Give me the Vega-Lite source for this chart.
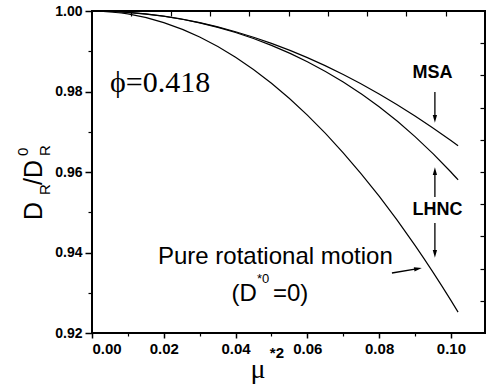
{
  "$schema": "https://vega.github.io/schema/vega-lite/v6.json",
  "width": 393,
  "height": 322,
  "autosize": "none",
  "padding": {"left": 92, "top": 11, "right": 2, "bottom": 57},
  "background": "white",
  "config": {
    "view": {"stroke": "black", "strokeWidth": 2},
    "axis": {"grid": false, "domain": false, "title": null, "tickColor": "black", "labelColor": "black"}
  },
  "resolve": {"axis": {"x": "independent", "y": "independent"}},
  "layer": [
    {
      "data": {"values": [
        {"x": 0, "y": 1.0, "m": "MSA"}, {"x": 0.01, "y": 0.99968, "m": "MSA"}, {"x": 0.02, "y": 0.99871, "m": "MSA"}, {"x": 0.03, "y": 0.9971, "m": "MSA"}, {"x": 0.04, "y": 0.99485, "m": "MSA"}, {"x": 0.05, "y": 0.99195, "m": "MSA"}, {"x": 0.06, "y": 0.98841, "m": "MSA"}, {"x": 0.07, "y": 0.98422, "m": "MSA"}, {"x": 0.08, "y": 0.97939, "m": "MSA"}, {"x": 0.09, "y": 0.97392, "m": "MSA"}, {"x": 0.1, "y": 0.9678, "m": "MSA"}, {"x": 0.102, "y": 0.9665, "m": "MSA"},
        {"x": 0, "y": 1.0, "m": "LHNC"}, {"x": 0.01, "y": 0.99968, "m": "LHNC"}, {"x": 0.02, "y": 0.9987, "m": "LHNC"}, {"x": 0.03, "y": 0.99704, "m": "LHNC"}, {"x": 0.04, "y": 0.99465, "m": "LHNC"}, {"x": 0.05, "y": 0.99146, "m": "LHNC"}, {"x": 0.06, "y": 0.9874, "m": "LHNC"}, {"x": 0.07, "y": 0.98235, "m": "LHNC"}, {"x": 0.08, "y": 0.97619, "m": "LHNC"}, {"x": 0.09, "y": 0.9688, "m": "LHNC"}, {"x": 0.1, "y": 0.96, "m": "LHNC"}, {"x": 0.102, "y": 0.95806, "m": "LHNC"},
        {"x": 0, "y": 1.0, "m": "Pure"}, {"x": 0.01, "y": 0.99928, "m": "Pure"}, {"x": 0.02, "y": 0.99712, "m": "Pure"}, {"x": 0.03, "y": 0.99353, "m": "Pure"}, {"x": 0.04, "y": 0.9885, "m": "Pure"}, {"x": 0.05, "y": 0.98203, "m": "Pure"}, {"x": 0.06, "y": 0.97412, "m": "Pure"}, {"x": 0.07, "y": 0.96477, "m": "Pure"}, {"x": 0.08, "y": 0.95398, "m": "Pure"}, {"x": 0.09, "y": 0.94176, "m": "Pure"}, {"x": 0.1, "y": 0.9281, "m": "Pure"}, {"x": 0.102, "y": 0.9252, "m": "Pure"}
      ]},
      "mark": {"type": "line", "color": "black", "strokeWidth": 1.2, "interpolate": "monotone"},
      "encoding": {
        "x": {"field": "x", "type": "quantitative", "scale": {"domain": [0, 0.1095], "nice": false, "zero": false},
          "axis": {"orient": "bottom", "values": [0, 0.02, 0.04, 0.06, 0.08, 0.1], "format": ".2f", "labelFont": "Liberation Sans", "labelFontWeight": "bold", "labelFontSize": 15, "tickSize": 5, "tickWidth": 1.5, "labelPadding": 3}},
        "y": {"field": "y", "type": "quantitative", "scale": {"domain": [0.92, 1.0], "nice": false, "zero": false},
          "axis": {"orient": "left", "values": [0.92, 0.94, 0.96, 0.98, 1.0], "format": ".2f", "labelFont": "Liberation Sans", "labelFontWeight": "bold", "labelFontSize": 14, "tickSize": 7, "tickWidth": 1.5, "labelPadding": 3}},
        "detail": {"field": "m", "type": "nominal"}
      }
    },
    {
      "data": {"values": [
        {"x": 0.09554, "y": 0.97988, "y2": 0.97317},
        {"x": 0.09554, "y": 0.95379, "y2": 0.96024},
        {"x": 0.09554, "y": 0.94733, "y2": 0.93963}
      ]},
      "mark": {"type": "rule", "color": "black", "strokeWidth": 1.3},
      "encoding": {
        "x": {"field": "x", "type": "quantitative", "scale": {"domain": [0, 0.1095], "nice": false, "zero": false},
          "axis": {"orient": "bottom", "values": [0.01, 0.03, 0.05, 0.07, 0.09], "labels": false, "tickSize": 3, "tickWidth": 1.2}},
        "y": {"field": "y", "type": "quantitative", "scale": {"domain": [0.92, 1.0], "nice": false, "zero": false},
          "axis": {"orient": "left", "values": [0.93, 0.95, 0.97, 0.99], "labels": false, "tickSize": 4, "tickWidth": 1.2}},
        "y2": {"field": "y2"}
      }
    },
    {
      "data": {"values": [
        {"x": 0.08357, "x2": 0.09083, "y": 0.93491, "y2": 0.93599}
      ]},
      "mark": {"type": "rule", "color": "black", "strokeWidth": 1.3},
      "encoding": {
        "x": {"field": "x", "type": "quantitative", "scale": {"domain": [0, 0.1095], "nice": false, "zero": false},
          "axis": {"orient": "top", "values": [0.01095, 0.0219, 0.03285, 0.0438, 0.05475, 0.0657, 0.07665, 0.0876, 0.09855], "labels": false, "tickSize": -5, "tickWidth": 1.2}},
        "x2": {"field": "x2"},
        "y": {"field": "y", "type": "quantitative", "scale": {"domain": [0.92, 1.0], "nice": false, "zero": false},
          "axis": {"orient": "right", "values": [0.928, 0.936, 0.944, 0.952, 0.96, 0.968, 0.976, 0.984, 0.992], "labels": false, "tickSize": -5, "tickWidth": 1.2}},
        "y2": {"field": "y2"}
      }
    },
    {
      "data": {"values": [
        {"x": 0.09554, "y": 0.97317, "dir": "down"},
        {"x": 0.09554, "y": 0.93963, "dir": "down"}
      ]},
      "mark": {"type": "point", "filled": true, "color": "black", "opacity": 1, "size": 60, "shape": "M -0.55 -1 L 0.55 -1 L 0 1 Z"},
      "encoding": {
        "x": {"field": "x", "type": "quantitative", "scale": {"domain": [0, 0.1095], "nice": false, "zero": false}, "axis": null},
        "y": {"field": "y", "type": "quantitative", "scale": {"domain": [0.92, 1.0], "nice": false, "zero": false}, "axis": null}
      }
    },
    {
      "data": {"values": [
        {"x": 0.09554, "y": 0.96024, "dir": "up"}
      ]},
      "mark": {"type": "point", "filled": true, "color": "black", "opacity": 1, "size": 60, "shape": "M -0.55 1 L 0.55 1 L 0 -1 Z"},
      "encoding": {
        "x": {"field": "x", "type": "quantitative", "scale": {"domain": [0, 0.1095], "nice": false, "zero": false}, "axis": null},
        "y": {"field": "y", "type": "quantitative", "scale": {"domain": [0.92, 1.0], "nice": false, "zero": false}, "axis": null}
      }
    },
    {
      "data": {"values": [
        {"x": 0.09083, "y": 0.93599, "dir": "right"}
      ]},
      "mark": {"type": "point", "filled": true, "color": "black", "opacity": 1, "size": 60, "angle": -10, "shape": "M -1 -0.55 L 1 0 L -1 0.55 Z"},
      "encoding": {
        "x": {"field": "x", "type": "quantitative", "scale": {"domain": [0, 0.1095], "nice": false, "zero": false}, "axis": null},
        "y": {"field": "y", "type": "quantitative", "scale": {"domain": [0.92, 1.0], "nice": false, "zero": false}, "axis": null}
      }
    },
    {
      "data": {"values": [{"x": 0.00501, "y": 0.97988, "t": "ϕ=0.418"}]},
      "mark": {"type": "text", "font": "Liberation Serif", "fontSize": 30, "align": "left", "baseline": "alphabetic", "color": "black"},
      "encoding": {
        "x": {"field": "x", "type": "quantitative", "scale": {"domain": [0, 0.1095], "nice": false, "zero": false}, "axis": null},
        "y": {"field": "y", "type": "quantitative", "scale": {"domain": [0.92, 1.0], "nice": false, "zero": false}, "axis": null},
        "text": {"field": "t"}
      }
    },
    {
      "data": {"values": [
        {"x": 0.09485, "y": 0.98335, "t": "MSA"},
        {"x": 0.09624, "y": 0.94932, "t": "LHNC"}
      ]},
      "mark": {"type": "text", "font": "Liberation Sans", "fontSize": 18, "fontWeight": "bold", "align": "center", "baseline": "alphabetic", "color": "black"},
      "encoding": {
        "x": {"field": "x", "type": "quantitative", "scale": {"domain": [0, 0.1095], "nice": false, "zero": false}, "axis": null},
        "y": {"field": "y", "type": "quantitative", "scale": {"domain": [0.92, 1.0], "nice": false, "zero": false}, "axis": null},
        "text": {"field": "t"}
      }
    },
    {
      "data": {"values": [
        {"x": 0.01838, "y": 0.93714, "t": "Pure rotational motion"}
      ]},
      "mark": {"type": "text", "font": "Liberation Sans", "fontSize": 24, "align": "left", "baseline": "alphabetic", "color": "black"},
      "encoding": {
        "x": {"field": "x", "type": "quantitative", "scale": {"domain": [0, 0.1095], "nice": false, "zero": false}, "axis": null},
        "y": {"field": "y", "type": "quantitative", "scale": {"domain": [0.92, 1.0], "nice": false, "zero": false}, "axis": null},
        "text": {"field": "t"}
      }
    },
    {
      "data": {"values": [
        {"x": 0.05042, "y": 0.92795, "t": "=0)"}
      ]},
      "mark": {"type": "text", "font": "Liberation Sans", "fontSize": 24, "align": "left", "baseline": "alphabetic", "color": "black"},
      "encoding": {
        "x": {"field": "x", "type": "quantitative", "scale": {"domain": [0, 0.1095], "nice": false, "zero": false}, "axis": null},
        "y": {"field": "y", "type": "quantitative", "scale": {"domain": [0.92, 1.0], "nice": false, "zero": false}, "axis": null},
        "text": {"field": "t"}
      }
    },
    {
      "data": {"values": [{"x": 0.04596, "y": 0.92795, "t": "(D"}]},
      "mark": {"type": "text", "font": "Liberation Sans", "fontSize": 24, "align": "right", "baseline": "alphabetic", "color": "black"},
      "encoding": {
        "x": {"field": "x", "type": "quantitative", "scale": {"domain": [0, 0.1095], "nice": false, "zero": false}, "axis": null},
        "y": {"field": "y", "type": "quantitative", "scale": {"domain": [0.92, 1.0], "nice": false, "zero": false}, "axis": null},
        "text": {"field": "t"}
      }
    },
    {
      "data": {"values": [{"x": 0.04596, "y": 0.93242, "t": "*0"}]},
      "mark": {"type": "text", "font": "Liberation Sans", "fontSize": 13, "align": "left", "baseline": "alphabetic", "color": "black"},
      "encoding": {
        "x": {"field": "x", "type": "quantitative", "scale": {"domain": [0, 0.1095], "nice": false, "zero": false}, "axis": null},
        "y": {"field": "y", "type": "quantitative", "scale": {"domain": [0.92, 1.0], "nice": false, "zero": false}, "axis": null},
        "text": {"field": "t"}
      }
    },
    {
      "data": {"values": [
        {"x": -0.01393, "y": 0.94807, "t": "D"},
        {"x": -0.01393, "y": 0.95677, "t": "/D"}
      ]},
      "mark": {"type": "text", "font": "Liberation Sans", "fontSize": 25, "angle": 270, "align": "left", "baseline": "alphabetic", "color": "black"},
      "encoding": {
        "x": {"field": "x", "type": "quantitative", "scale": {"domain": [0, 0.1095], "nice": false, "zero": false}, "axis": null},
        "y": {"field": "y", "type": "quantitative", "scale": {"domain": [0.92, 1.0], "nice": false, "zero": false}, "axis": null},
        "text": {"field": "t"}
      }
    },
    {
      "data": {"values": [
        {"x": -0.0117, "y": 0.95429, "t": "R"},
        {"x": -0.0117, "y": 0.96398, "t": "R"},
        {"x": -0.01783, "y": 0.96398, "t": "0"}
      ]},
      "mark": {"type": "text", "font": "Liberation Sans", "fontSize": 15, "angle": 270, "align": "left", "baseline": "alphabetic", "color": "black"},
      "encoding": {
        "x": {"field": "x", "type": "quantitative", "scale": {"domain": [0, 0.1095], "nice": false, "zero": false}, "axis": null},
        "y": {"field": "y", "type": "quantitative", "scale": {"domain": [0.92, 1.0], "nice": false, "zero": false}, "axis": null},
        "text": {"field": "t"}
      }
    },
    {
      "data": {"values": [{"x": 0.04624, "y": 0.90882, "t": "μ"}]},
      "mark": {"type": "text", "font": "Liberation Serif", "fontSize": 28, "align": "center", "baseline": "alphabetic", "color": "black"},
      "encoding": {
        "x": {"field": "x", "type": "quantitative", "scale": {"domain": [0, 0.1095], "nice": false, "zero": false}, "axis": null},
        "y": {"field": "y", "type": "quantitative", "scale": {"domain": [0.92, 1.0], "nice": false, "zero": false}, "axis": null},
        "text": {"field": "t"}
      }
    },
    {
      "data": {"values": [{"x": 0.05153, "y": 0.91379, "t": "*2"}]},
      "mark": {"type": "text", "font": "Liberation Sans", "fontSize": 15, "fontWeight": "bold", "align": "center", "baseline": "alphabetic", "color": "black"},
      "encoding": {
        "x": {"field": "x", "type": "quantitative", "scale": {"domain": [0, 0.1095], "nice": false, "zero": false}, "axis": null},
        "y": {"field": "y", "type": "quantitative", "scale": {"domain": [0.92, 1.0], "nice": false, "zero": false}, "axis": null},
        "text": {"field": "t"}
      }
    }
  ]
}
